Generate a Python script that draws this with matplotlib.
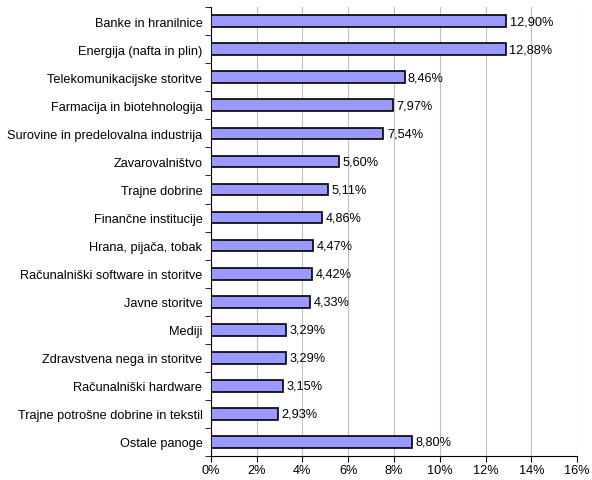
import matplotlib.pyplot as plt
import numpy as np

plt.rcParams['font.family'] = ['Liberation Sans', 'DejaVu Sans']

categories = ['Banke in hranilnice', 'Energija (nafta in plin)', 'Telekomunikacijske storitve',
              'Farmacija in biotehnologija', 'Surovine in predelovalna industrija', 'Zavarovalništvo',
              'Trajne dobrine', 'Finančne institucije', 'Hrana, pijača, tobak',
              'Računalniški software in storitve', 'Javne storitve', 'Mediji',
              'Zdravstvena nega in storitve', 'Računalniški hardware',
              'Trajne potrošne dobrine in tekstil', 'Ostale panoge']
values = [12.90, 12.88, 8.46, 7.97, 7.54, 5.60, 5.11, 4.86, 4.47, 4.42, 4.33, 3.29, 3.29, 3.15, 2.93, 8.80]
xticks = [0, 2, 4, 6, 8, 10, 12, 14, 16]

fig = plt.figure(figsize=(5.92, 4.81), dpi=100)
ax = fig.add_axes([0.356, 0.05, 0.619, 0.933])

y = np.arange(len(categories))
ax.barh(y, values, height=0.42, color='#9999FF', edgecolor='black', linewidth=1.2, zorder=3)
for yi, v in zip(y, values):
    ax.text(v + 0.15, yi, ('%.2f' % v).replace('.', ',') + '%', va='center', ha='left', fontsize=9.2)

ax.set_ylim(len(categories) - 0.5, -0.5)
ax.set_xlim(0, 16)
ax.set_yticks(y)
ax.set_yticklabels(categories, fontsize=9.2)
ax.set_yticks(np.arange(len(categories) + 1) - 0.5, minor=True)
ax.tick_params(axis='y', which='major', length=0, pad=6)
ax.tick_params(axis='y', which='minor', length=4, direction='out')
ax.set_xticks(xticks)
ax.set_xticklabels(['%d%%' % t for t in xticks], fontsize=9.2)
ax.tick_params(axis='x', length=4, direction='out', pad=2)
ax.grid(axis='x', color='#c0c0c0', linewidth=0.8, zorder=0)
ax.spines['top'].set_visible(False)
ax.spines['right'].set_visible(False)

fig.savefig('out.png', dpi=100)
